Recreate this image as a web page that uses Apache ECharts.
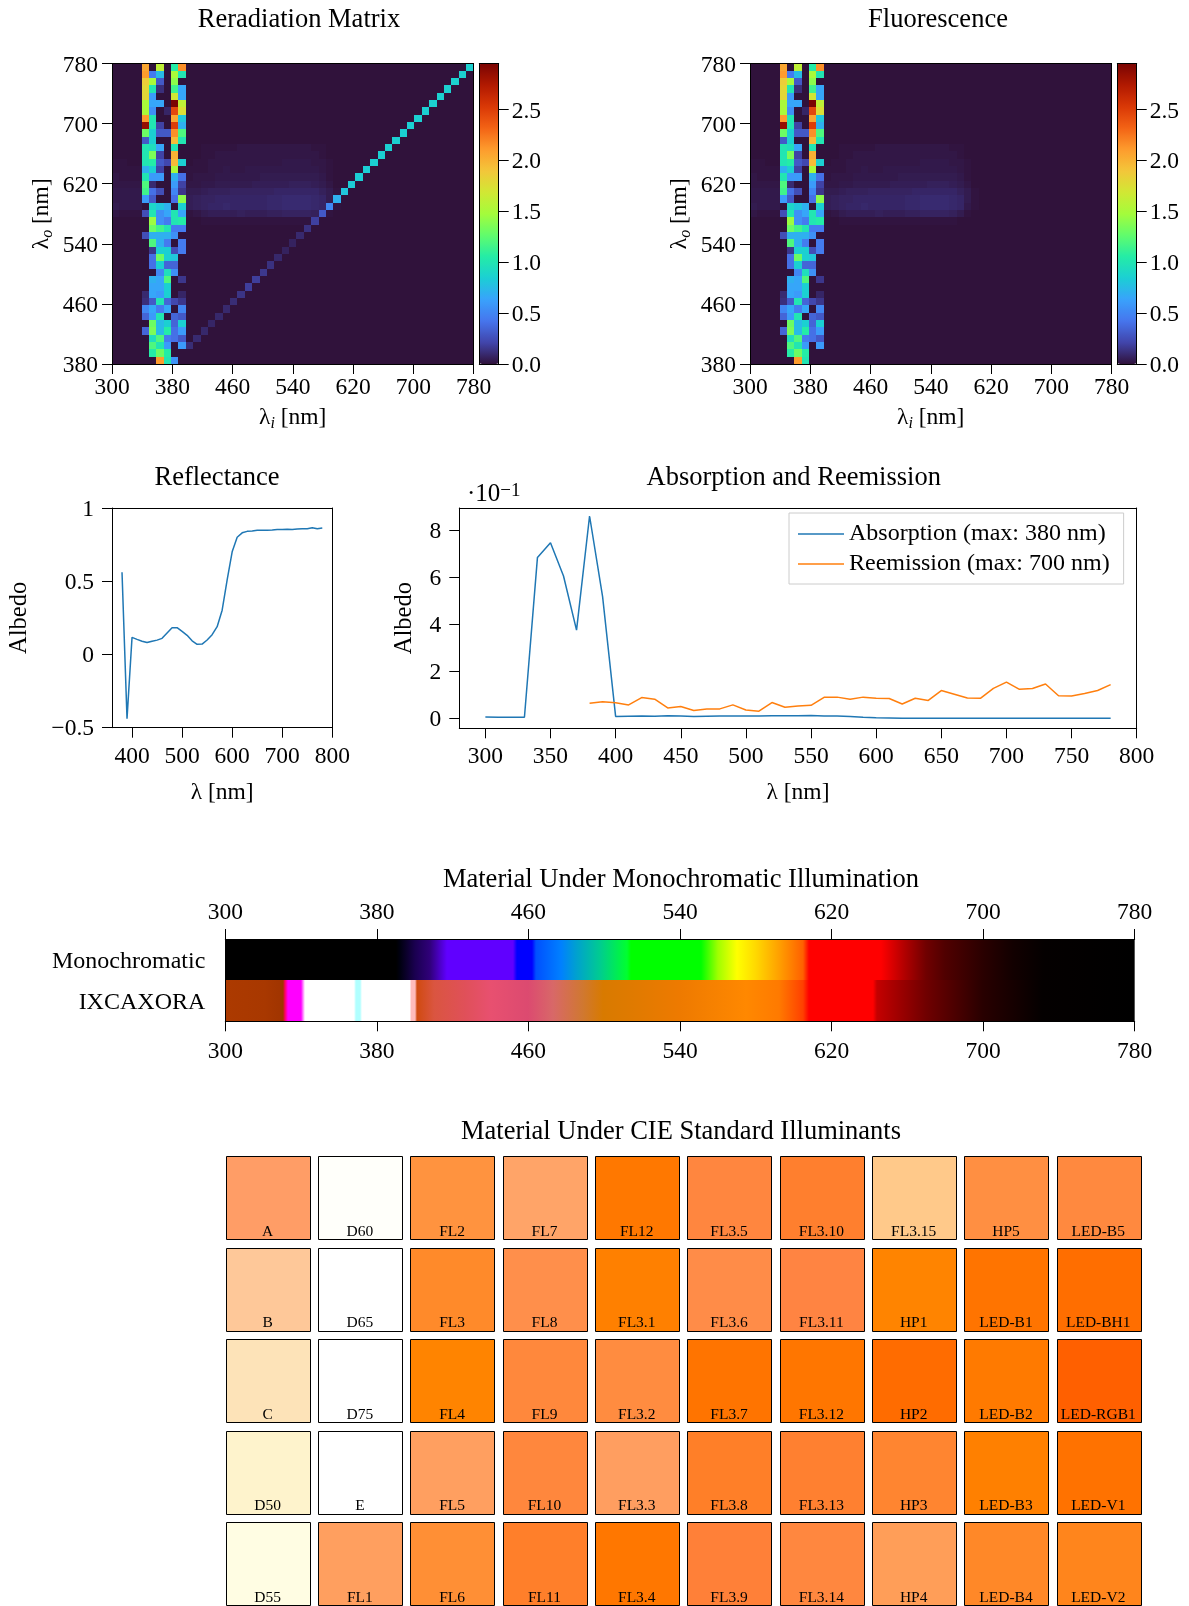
<!DOCTYPE html>
<html><head><meta charset="utf-8">
<style>html,body{margin:0;padding:0;background:#fff}#c{width:1189px;height:1606px}</style>
<script src="https://cdn.jsdelivr.net/npm/echarts@6/dist/echarts.min.js"></script>
</head><body><div id="c"></div>
<script>
// ---------- data ----------
const heatTicks = [300,380,460,540,620,700,780];
const heatYTicks = [380,460,540,620,700,780];
const cbTicks = [0,0.5,1,1.5,2,2.5];
// fluorescence columns, rows listed from 780 nm (top) down to 380 nm (bottom)
const col340=[2.05,2.1,1.85,1.8,1.8,1.5,1.5,2.1,2.85,1.3,.3,1,1,1,.7,1,1.2,1.15,.6,0,.25,0,0,.25,0,0,0,0,0,0,0,.1,.12,.5,.35,0,.35,0,0,0,0];
const col350=[0,.45,1.5,1,.6,.65,.55,1,1,.85,.85,.95,1.35,1.05,.85,.6,.1,.4,.3,.9,1,1.45,1.3,.7,1.2,.15,.4,.4,0,.7,.65,.65,.3,.65,.6,1.3,1.35,.95,1.2,1.05,0];
const col360=[1.6,.75,.3,.12,0,.65,0,0,.2,.3,0,.65,.2,.3,.2,.6,0,.25,0,.8,.55,.55,1.15,.7,.7,.85,1.3,.85,.5,.65,.65,.6,1,.45,1,.75,.75,1.2,1,1.3,2.1];
const col370=[0,0,0,0,0,0,.08,0,0,.3,0,0,0,.22,0,0,0,0,0,.7,.65,.45,1,.7,.45,.85,.85,.35,.95,1.2,.85,.85,.35,.65,0,.85,1.05,.45,.6,1.05,1];
const col380=[1.05,1.5,1.4,1.15,1.7,2.95,2.45,2.05,2.5,2.15,1.95,1,2,1.95,1.5,.7,.6,.5,.4,0,1,1,.45,.55,0,.25,.8,.35,.55,0,0,0,.22,0,.35,.35,.4,.4,0,0,0];
const col390=[2.15,1,0,.65,.65,1.6,1.75,.8,.7,1.2,1,0,0,.85,0,.4,.2,.15,1.4,.85,.65,1.05,.45,0,.45,.45,0,0,0,.15,0,.08,.15,.5,.3,.85,.6,.3,.6,0,0];
// faint emission band: rows from 670 nm down to 570 nm, columns 300 nm upward
const bandTopRow = 11;
const bandRows = [
[0,0,0,0,0,0,0,0,0,0,0,0,.01,.01,.01,.01,.01,.02,.02,.02,.02,.02,.02,.02,.02,.02,.02,.01,.01,0,0],
[0,0,0,0,0,0,0,0,0,0,0,0,.01,.01,.02,.02,.02,.02,.02,.02,.02,.02,.02,.02,.02,.02,.02,.02,.01,0,0],
[.01,.01,0,0,0,0,0,0,0,0,0,.01,.01,.02,.02,.02,.02,.02,.02,.02,.02,.02,.02,.03,.03,.03,.03,.02,.02,.01,0],
[.01,.01,.01,.01,0,0,0,0,0,0,.01,.01,.01,.02,.02,.03,.02,.02,.03,.03,.03,.03,.03,.03,.03,.03,.03,.03,.02,.01,0],
[.02,.01,.01,.01,0,0,0,0,0,0,.01,.02,.02,.02,.03,.03,.03,.03,.03,.03,.04,.04,.04,.04,.04,.04,.04,.04,.03,.01,0],
[.02,.02,.02,.02,0,0,0,0,0,0,.02,.02,.03,.03,.04,.04,.04,.04,.04,.05,.05,.05,.05,.05,.06,.06,.06,.05,.04,.02,0],
[.03,.03,.03,.03,0,0,0,0,0,0,.04,.04,.05,.06,.06,.06,.07,.07,.07,.07,.07,.07,.08,.08,.08,.08,.08,.08,.06,.04,.01],
[.03,.03,.03,.03,0,0,0,0,0,0,.05,.06,.07,.07,.08,.08,.08,.08,.08,.08,.08,.09,.09,.1,.1,.1,.1,.09,.08,.04,.01],
[.04,.03,.03,.03,0,0,0,0,0,0,.05,.06,.07,.08,.08,.09,.08,.08,.08,.08,.08,.09,.09,.1,.1,.1,.1,.09,.08,.03,.01],
[.02,.01,.01,.01,0,0,0,0,0,0,.01,.02,.04,.05,.05,.05,.05,.06,.05,.05,.05,.06,.06,.07,.07,.07,.07,.06,.04,.01,0],
[0,0,0,0,0,0,0,0,0,0,0,0,.01,.01,.01,.01,.01,.01,.01,.01,.01,.01,.01,.01,.01,.01,.01,.01,0,0,0]
];
// reflectance on the diagonal of the reradiation matrix, 380..780 nm
const diagonal=[.56,0,.11,.1,.09,.08,.09,.095,.11,.14,.18,.18,.155,.13,.09,.066,.068,.096,.13,.19,.3,.51,.7,.8,.83,.84,.84,.85,.85,.85,.85,.85,.85,.85,.85,.86,.86,.86,.865,.86,.86];
const turbo=['#30123b','#4145ab','#4675ed','#39a2fc','#1bcfd4','#24eca6','#61fc6c','#a4fc3b','#d1e834','#f3c63a','#fe9b2d','#f36315','#d93806','#b11901','#7a0402'];

const reflWl=[380,390,400,410,420,430,440,450,460,470,480,490,500,510,520,530,540,550,560,570,580,590,600,610,620,630,640,650,660,670,680,690,700,710,720,730,740,750,760,770,780];
const reflectance=[.56,-.443,.114,.1,.087,.078,.087,.095,.107,.144,.18,.18,.155,.128,.09,.066,.068,.096,.132,.187,.3,.507,.7,.8,.83,.84,.843,.847,.847,.847,.849,.852,.852,.854,.852,.856,.858,.858,.865,.858,.863];
const absWl=[300,310,320,330,340,350,360,370,380,390,400,410,420,430,440,450,460,470,480,490,500,510,520,530,540,550,560,570,580,590,600,610,620,630,640,650,660,670,680,690,700,710,720,730,740,750,760,770,780];
const absorption=[.06,.05,.05,.045,6.84,7.46,6.05,3.75,8.6,5.17,.08,.09,.1,.09,.11,.1,.08,.09,.1,.1,.1,.1,.11,.11,.11,.12,.1,.1,.08,.04,.02,.01,0,0,0,0,0,0,0,0,0,0,0,0,0,0,0,0,0];
const remWl=reflWl;
const reemission=[.64,.7,.66,.57,.88,.81,.44,.5,.33,.4,.4,.57,.35,.3,.67,.47,.52,.55,.89,.9,.81,.9,.85,.84,.61,.85,.76,1.18,1.02,.86,.85,1.27,1.54,1.23,1.27,1.46,.96,.95,1.05,1.18,1.43];

const stripTicks=[300,380,460,540,620,700,780];
const stripNames=['IXCAXORA','Monochromatic'];
const monoWl=[300,390,392,400,408,417,452,454,462,464,477,485,498,512,514,551,560,570,580,592,605,608,646,659,670,680,700,716,732,780];
const monoColor=['#000000','#000000','#000010','#1a0050','#30007a','#6000ff','#6000ff','#0000ff','#0000ff','#0050ff','#0080ff','#00a0d0','#00cc90','#00ff30','#00ff00','#00ff00','#a0ff00','#ffff00','#ffd800','#ffa000','#ff6000','#ff0000','#ff0000','#b00000','#700000','#500000','#2a0000','#120000','#040000','#000000'];
const ixWl=[300,321,330.5,331.5,333,340,342,368,369,371,372,397.5,398,400,401,410,427,440,460,473,489,499.5,515,540,575,592,605,608,642,644,670,700,731,780];
const ixColor=['#ac3a00','#a83800','#a03400','#ff0060','#ff00ff','#ff00ff','#ffffff','#ffffff','#b0ffff','#b0ffff','#ffffff','#ffffff','#ffbbbb','#ffbbbb','#d04a10','#da5540','#e0505a','#e85070','#dc4a70','#d86868','#d07830','#d87a00','#e07a00','#ee7a00','#ff8800','#ff7a00','#ff4000','#ff0000','#ff0000','#c40000','#700000','#280000','#040000','#000000'];

const swatchNames=[
['A','D60','FL2','FL7','FL12','FL3.5','FL3.10','FL3.15','HP5','LED-B5'],
['B','D65','FL3','FL8','FL3.1','FL3.6','FL3.11','HP1','LED-B1','LED-BH1'],
['C','D75','FL4','FL9','FL3.2','FL3.7','FL3.12','HP2','LED-B2','LED-RGB1'],
['D50','E','FL5','FL10','FL3.3','FL3.8','FL3.13','HP3','LED-B3','LED-V1'],
['D55','FL1','FL6','FL11','FL3.4','FL3.9','FL3.14','HP4','LED-B4','LED-V2']];
const swatchColors=[
['#ff9d66','#fffffa','#ff933f','#ffa468','#ff7800','#ff863f','#ff7f2e','#ffc98a','#ff8f42','#ff893f'],
['#fec899','#ffffff','#ff8a2a','#ff8f4b','#ff8000','#ff8c48','#ff8442','#ff8400','#ff7400','#ff6e00'],
['#fde3b8','#ffffff','#ff8400','#ff883c','#ff8c40','#ff7400','#ff7600','#ff6c00','#ff7a00','#ff6000'],
['#fef3cc','#ffffff','#ff9f60','#ff873d','#ff9e60','#ff7f28','#ff8030','#ff8530','#ff8000','#ff7200'],
['#fffde3','#ff9f5f','#ff8f35','#ff7f2a','#ff7700','#ff8038','#ff873f','#ff9e58','#ff8828','#ff851c']];

// ---------- option ----------
const FONT='"Liberation Serif"';
const TICK=23.5, NAME=24.5, TITLE=26.5, NCOL=49, NROW=41;
const xAxes=[], yAxes=[], grids=[], series=[], titles=[], vms=[];
const black={color:'#000',width:1};
const isV=p=>p==='left'||p==='right';

function grid(l,t,w,h){grids.push({left:l,top:t,width:w,height:h,containLabel:false});return grids.length-1;}
function axis(list,cfg){
  const base=cfg.fmt||(v=>String(v));
  const shifted=isV(cfg.pos);
  const fs=cfg.type==='category'?24:TICK;
  const labelFmt=shifted?(v=>'{t|'+base(v)+'}'):base;
  const rich={t:{fontFamily:FONT,fontSize:fs,color:'#000',padding:[4,0,0,0]}};
  const o={gridIndex:cfg.g,type:cfg.type||'value',position:cfg.pos,min:cfg.min,max:cfg.max,z:6,silent:true,
    axisLine:{show:cfg.line!==false,onZero:false,lineStyle:black},splitLine:{show:false},
    axisTick:{show:!!cfg.ticks,length:10,lineStyle:black,customValues:cfg.ticks},
    axisLabel:{show:!!cfg.ticks,customValues:cfg.ticks,color:'#000',fontFamily:FONT,fontSize:fs,margin:cfg.margin||16,rich,
      hideOverlap:false,showMinLabel:true,showMaxLabel:true,formatter:labelFmt}};
  if(cfg.type==='category'){o.data=cfg.data;delete o.min;delete o.max;
    o.axisTick={show:false};o.axisLabel={show:true,color:'#000',fontFamily:FONT,fontSize:fs,margin:cfg.margin||20,rich,formatter:labelFmt};}
  if(cfg.name){o.name=cfg.name;o.nameLocation='middle';o.nameGap=cfg.nameGap;o.nameMoveOverlap=false;
    o.nameTextStyle={color:'#000',fontFamily:FONT,fontSize:NAME,
      rich:{a:{fontFamily:FONT,fontSize:TICK,color:'#000',lineHeight:28},
            s:{fontFamily:FONT,fontSize:16,fontStyle:'italic',color:'#000',lineHeight:28,verticalAlign:'bottom',padding:[4,0,0,0]}}};}
  list.push(o);return list.length-1;
}
const X=c=>axis(xAxes,c), Y=c=>axis(yAxes,c);
function title(text,cx,cy){titles.push({text,left:cx,top:cy-TITLE*0.58+2.5,textAlign:'center',padding:0,
  textStyle:{fontFamily:FONT,fontSize:TITLE,fontWeight:'normal',color:'#000',lineHeight:TITLE*1.16}});}

const edgeX=i=>300+i*480/NCOL, edgeY=j=>380+j*400/NROW;
function heatCells(withDiag){
  const cols={4:col340,5:col350,6:col360,7:col370,8:col380,9:col390};
  const cells=[];
  for(let r=0;r<NROW;r++)for(let i=0;i<NCOL;i++){
    let v=cols[i]?cols[i][r]:0;
    const br=r-bandTopRow;
    if(!v&&br>=0&&br<bandRows.length&&i<bandRows[br].length)v=bandRows[br][i];
    const j=NROW-1-r;
    if(withDiag&&i>=8&&i-8===j&&!cols[i])v=Math.max(v,diagonal[j]);
    if(withDiag&&i===8&&j===0)v=diagonal[0];
    cells.push([edgeX(i),edgeY(j),v,edgeX(i+1),edgeY(j+1)]);
  }
  return cells;
}
function renderCell(p,api){
  const a=api.coord([api.value(0),api.value(1)]),b=api.coord([api.value(3),api.value(4)]);
  const x0=Math.round(a[0]),x1=Math.round(b[0]),y0=Math.round(b[1]),y1=Math.round(a[1]);
  return {type:'rect',shape:{x:x0,y:y0,width:x1-x0,height:y1-y0},style:{fill:api.visual('color')}};
}
function heatPanel(left,cbLeft,titleText,titleX,withDiag,nameOffset){
  const g=grid(left,63.5,361.5,300.5);
  const xa=X({g,pos:'bottom',min:300,max:780,ticks:heatTicks,margin:12,name:'{a|λ}{s|i}{a| [nm]}',nameGap:40});
  X({g,pos:'top',min:300,max:780});
  const ya=Y({g,pos:'left',min:380,max:780,ticks:heatYTicks,margin:14,name:'{a|λ}{s|o}{a| [nm]}',nameGap:nameOffset});
  Y({g,pos:'right',min:380,max:780});
  series.push({type:'custom',coordinateSystem:'cartesian2d',xAxisIndex:xa,yAxisIndex:ya,clip:true,silent:true,
    encode:{x:[0,3],y:[1,4]},data:heatCells(withDiag),renderItem:renderCell,z:2,animation:false,progressive:0});
  const si=series.length-1;
  vms.push({type:'continuous',show:true,min:0,max:2.95,left:cbLeft,top:63.5,itemWidth:19.4,itemHeight:300.5,padding:0,
    calculable:false,hoverLink:false,seriesIndex:si,dimension:2,inRange:{color:turbo},z:3});
  const cg=grid(cbLeft,63.5,19.4,300.5);
  X({g:cg,pos:'bottom',min:0,max:1}); X({g:cg,pos:'top',min:0,max:1});
  Y({g:cg,pos:'left',min:0,max:2.95});
  Y({g:cg,pos:'right',min:0,max:2.95,ticks:cbTicks,margin:13,fmt:v=>v.toFixed(1)});
  title(titleText,titleX,17.5);
}
heatPanel(112,479.3,'Reradiation Matrix',299,true,56);
heatPanel(750,1117.3,'Fluorescence',938,false,56);

// Reflectance
{
  const g=grid(112,508,220.3,219.7);
  const xa=X({g,pos:'bottom',min:360,max:800,ticks:[400,500,600,700,800],margin:17,name:'{a|λ [nm]}',nameGap:51});
  X({g,pos:'top',min:360,max:800});
  const ya=Y({g,pos:'left',min:-.505,max:1,ticks:[-.5,0,.5,1],margin:18,name:'Albedo',nameGap:80,
    fmt:v=>v<0?'\u2212'+Math.abs(v):String(v)});
  Y({g,pos:'right',min:-.505,max:1});
  series.push({type:'line',name:'Reflectance',xAxisIndex:xa,yAxisIndex:ya,symbol:'none',
    lineStyle:{color:'#1f77b4',width:1.5},data:reflWl.map((w,i)=>[w,reflectance[i]]),animation:false});
  title('Reflectance',217,476);
}
// Absorption & reemission
{
  const g=grid(459.3,508,677.4,220.3);
  const xa=X({g,pos:'bottom',min:280,max:800,ticks:[300,350,400,450,500,550,600,650,700,750,800],margin:17,name:'{a|λ [nm]}',nameGap:51});
  X({g,pos:'top',min:280,max:800});
  const ya=Y({g,pos:'left',min:-.425,max:8.94,ticks:[0,2,4,6,8],margin:18,name:'Albedo',nameGap:42});
  Y({g,pos:'right',min:-.425,max:8.94});
  series.push({type:'line',name:'Absorption (max: 380 nm)',xAxisIndex:xa,yAxisIndex:ya,symbol:'none',
    lineStyle:{color:'#1f77b4',width:1.5},itemStyle:{color:'#1f77b4'},data:absWl.map((w,i)=>[w,absorption[i]]),animation:false});
  series.push({type:'line',name:'Reemission (max: 700 nm)',xAxisIndex:xa,yAxisIndex:ya,symbol:'none',
    lineStyle:{color:'#ff7f0e',width:1.5},itemStyle:{color:'#ff7f0e'},data:remWl.map((w,i)=>[w,reemission[i]]),animation:false});
  title('Absorption and Reemission',793.7,476);
  titles.push({text:'·10{s|−1}',left:467,top:482,padding:0,textStyle:{fontFamily:FONT,fontSize:25,fontWeight:'normal',color:'#000',
    rich:{s:{fontFamily:FONT,fontSize:19,color:'#000',verticalAlign:'top'}}}});
}
// Strips
{
  const g=grid(225.3,939,909.4,82.3);
  const xa=X({g,pos:'bottom',min:300,max:780,ticks:stripTicks,margin:19});
  X({g,pos:'top',min:300,max:780,ticks:stripTicks,margin:14});
  const ya=Y({g,pos:'left',type:'category',data:stripNames});
  yAxes[ya].axisLine={show:true,lineStyle:black};
  const yb=Y({g,pos:'right',type:'category',data:stripNames});
  yAxes[yb].axisLabel={show:false};
  yAxes[yb].axisLine={show:true,lineStyle:{color:'#555',width:1}};
  const segs=(wl,cat)=>wl.slice(0,-1).map((w,i)=>[w,cat,wl[i+1]]);
  const strip=(wl,colors,cat)=>({type:'custom',coordinateSystem:'cartesian2d',xAxisIndex:xa,yAxisIndex:ya,silent:true,z:2,animation:false,
    encode:{x:[0,2],y:1},data:segs(wl,cat),
    renderItem(p,api){
      const i=p.dataIndex,a=api.coord([api.value(0),cat]),b=api.coord([api.value(2),cat]),h=api.size([0,1])[1];
      const x0=Math.round(a[0]),x1=Math.round(b[0]),y0=Math.round(a[1]-h/2),y1=Math.round(a[1]+h/2);
      return {type:'rect',shape:{x:x0,y:y0,width:x1-x0,height:y1-y0},
        style:{fill:new echarts.graphic.LinearGradient(0,0,1,0,[{offset:0,color:colors[i]},{offset:1,color:colors[i+1]}])}};
    }});
  series.push(strip(monoWl,monoColor,1),strip(ixWl,ixColor,0));
  title('Material Under Monochromatic Illumination',681,878);
}
// Swatches
{
  const g=grid(225.8,1156,923,449.7);
  const xa=X({g,pos:'bottom',min:0,max:10,line:false});
  const ya=Y({g,pos:'left',min:0,max:4.9115,line:false});
  yAxes[ya].inverse=true;
  const cells=[];
  swatchNames.forEach((row,r)=>row.forEach((n,c)=>cells.push([c,r,c+.905,r+.9115,n,swatchColors[r][c]])));
  series.push({type:'custom',coordinateSystem:'cartesian2d',xAxisIndex:xa,yAxisIndex:ya,silent:true,clip:false,z:2,animation:false,
    encode:{x:[0,2],y:[1,3]},dimensions:['c','r','c2','r2',{name:'n',type:'ordinal'},{name:'col',type:'ordinal'}],data:cells,
    renderItem(p,api){
      const d=cells[p.dataIndex],a=api.coord([d[0],d[1]]),b=api.coord([d[2],d[3]]);
      return {type:'group',children:[
        {type:'rect',shape:{x:Math.round(a[0])+.5,y:Math.round(a[1])+.5,width:Math.round(b[0]-a[0]),height:Math.round(b[1]-a[1])},style:{fill:d[5],stroke:'#000',lineWidth:1}},
        {type:'text',style:{text:d[4],x:(a[0]+b[0])/2,y:b[1],align:'center',verticalAlign:'bottom',fontFamily:FONT,fontSize:15.5,fill:'#000'}}
      ]};
    }});
  title('Material Under CIE Standard Illuminants',681,1129.6);
}

const option={
  animation:false,backgroundColor:'#fff',textStyle:{fontFamily:FONT},
  title:titles,grid:grids,xAxis:xAxes,yAxis:yAxes,visualMap:vms,series,
  legend:{show:true,left:789,top:513,orient:'vertical',selectedMode:false,itemWidth:46,itemHeight:1.5,itemGap:6,icon:'rect',
    padding:[9,14,8,9],borderColor:'#ccc',borderWidth:1,
    data:['Absorption (max: 380 nm)','Reemission (max: 700 nm)'],
    textStyle:{fontFamily:FONT,fontSize:24,color:'#000',lineHeight:24}}
};
echarts.init(document.getElementById('c'),null,{renderer:'canvas'}).setOption(option);
</script></body></html>
